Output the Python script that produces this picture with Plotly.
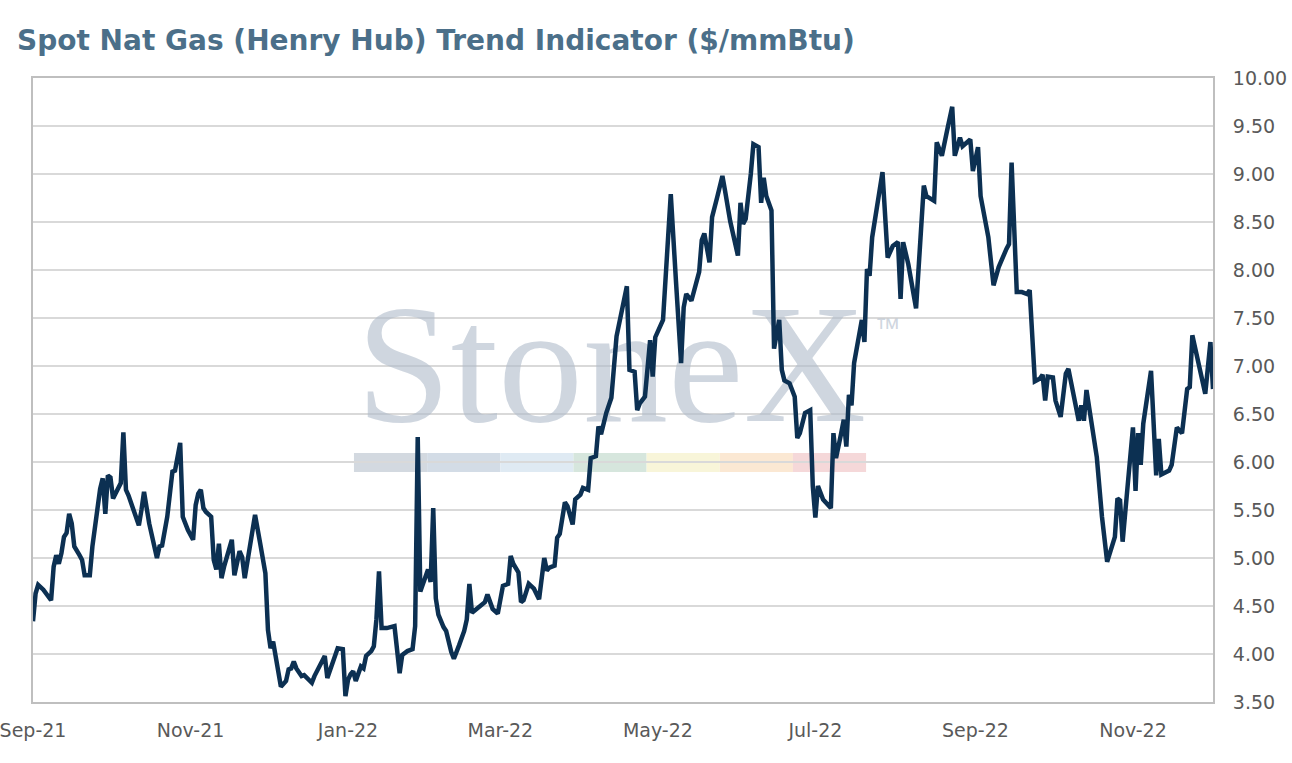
import plotly.graph_objects as go

# Henry Hub spot price, $/mmBtu
dates = [
    "2021-09-01", "2021-09-02", "2021-09-03", "2021-09-05", "2021-09-08", "2021-09-09", "2021-09-10",
    "2021-09-11", "2021-09-12", "2021-09-13", "2021-09-14", "2021-09-15", "2021-09-16", "2021-09-17",
    "2021-09-19", "2021-09-20", "2021-09-21", "2021-09-23", "2021-09-24", "2021-09-26", "2021-09-27",
    "2021-09-28", "2021-09-29", "2021-09-30",
    "2021-10-01", "2021-10-02", "2021-10-04", "2021-10-05", "2021-10-06", "2021-10-07", "2021-10-08",
    "2021-10-10", "2021-10-12", "2021-10-13", "2021-10-14", "2021-10-16", "2021-10-19", "2021-10-20",
    "2021-10-21", "2021-10-23", "2021-10-25", "2021-10-26", "2021-10-28", "2021-10-29", "2021-10-31",
    "2021-11-02", "2021-11-03", "2021-11-04", "2021-11-05", "2021-11-06", "2021-11-07", "2021-11-09",
    "2021-11-10", "2021-11-11", "2021-11-12", "2021-11-13", "2021-11-14", "2021-11-17", "2021-11-18",
    "2021-11-20", "2021-11-21", "2021-11-22", "2021-11-24", "2021-11-26", "2021-11-28", "2021-11-30",
    "2021-12-01", "2021-12-02", "2021-12-03", "2021-12-05", "2021-12-06", "2021-12-08", "2021-12-09",
    "2021-12-10", "2021-12-11", "2021-12-12", "2021-12-14", "2021-12-15", "2021-12-16", "2021-12-18",
    "2021-12-19", "2021-12-21", "2021-12-23", "2021-12-24", "2021-12-26", "2021-12-28", "2021-12-30",
    "2021-12-31",
    "2022-01-01", "2022-01-02", "2022-01-03", "2022-01-04", "2022-01-06", "2022-01-07", "2022-01-08",
    "2022-01-10", "2022-01-11", "2022-01-12", "2022-01-13", "2022-01-14", "2022-01-16", "2022-01-19",
    "2022-01-21", "2022-01-22", "2022-01-24", "2022-01-26", "2022-01-27", "2022-01-28", "2022-01-29",
    "2022-01-30",
    "2022-02-01", "2022-02-02", "2022-02-03", "2022-02-04", "2022-02-05", "2022-02-07", "2022-02-08",
    "2022-02-10", "2022-02-11", "2022-02-13", "2022-02-15", "2022-02-16", "2022-02-17", "2022-02-18",
    "2022-02-21", "2022-02-23", "2022-02-24", "2022-02-26", "2022-02-28",
    "2022-03-02", "2022-03-04", "2022-03-05", "2022-03-06", "2022-03-08", "2022-03-09", "2022-03-10",
    "2022-03-12", "2022-03-14", "2022-03-16", "2022-03-18", "2022-03-19", "2022-03-20", "2022-03-22",
    "2022-03-23", "2022-03-24", "2022-03-26", "2022-03-27", "2022-03-29", "2022-03-30",
    "2022-04-01", "2022-04-02", "2022-04-04", "2022-04-05", "2022-04-07", "2022-04-08", "2022-04-09",
    "2022-04-11", "2022-04-13", "2022-04-15", "2022-04-17", "2022-04-19", "2022-04-20", "2022-04-22",
    "2022-04-23", "2022-04-24", "2022-04-26", "2022-04-28", "2022-04-29", "2022-04-30",
    "2022-05-03", "2022-05-04", "2022-05-06", "2022-05-08", "2022-05-10", "2022-05-11", "2022-05-12",
    "2022-05-14", "2022-05-16", "2022-05-17", "2022-05-18", "2022-05-19", "2022-05-21", "2022-05-22",
    "2022-05-24", "2022-05-26", "2022-05-27", "2022-05-29",
    "2022-06-01", "2022-06-02", "2022-06-03", "2022-06-04", "2022-06-06", "2022-06-07", "2022-06-09",
    "2022-06-10", "2022-06-11", "2022-06-12", "2022-06-14", "2022-06-15", "2022-06-17", "2022-06-18",
    "2022-06-19", "2022-06-21", "2022-06-23", "2022-06-24", "2022-06-25", "2022-06-27", "2022-06-29",
    "2022-06-30",
    "2022-07-01", "2022-07-02", "2022-07-04", "2022-07-07", "2022-07-08", "2022-07-09", "2022-07-11",
    "2022-07-12", "2022-07-13", "2022-07-14", "2022-07-15", "2022-07-16", "2022-07-19", "2022-07-20",
    "2022-07-21", "2022-07-22", "2022-07-23", "2022-07-27", "2022-07-29", "2022-07-31",
    "2022-08-02", "2022-08-03", "2022-08-04", "2022-08-06", "2022-08-09", "2022-08-12", "2022-08-13",
    "2022-08-16", "2022-08-17", "2022-08-19", "2022-08-21", "2022-08-23", "2022-08-24", "2022-08-26",
    "2022-08-27", "2022-08-30", "2022-08-31",
    "2022-09-01", "2022-09-02", "2022-09-03", "2022-09-06", "2022-09-08", "2022-09-10", "2022-09-13",
    "2022-09-14", "2022-09-15", "2022-09-17", "2022-09-19", "2022-09-21", "2022-09-22", "2022-09-24",
    "2022-09-26", "2022-09-27", "2022-09-28", "2022-09-29",
    "2022-10-01", "2022-10-02", "2022-10-04", "2022-10-06", "2022-10-07", "2022-10-09", "2022-10-11",
    "2022-10-12", "2022-10-13", "2022-10-14", "2022-10-16", "2022-10-18", "2022-10-20", "2022-10-22",
    "2022-10-25", "2022-10-26", "2022-10-27", "2022-10-28", "2022-10-30",
    "2022-11-01", "2022-11-02", "2022-11-03", "2022-11-04", "2022-11-05", "2022-11-08", "2022-11-10",
    "2022-11-11", "2022-11-12", "2022-11-15", "2022-11-16", "2022-11-18", "2022-11-20", "2022-11-22",
    "2022-11-23", "2022-11-24", "2022-11-26", "2022-11-29",
    "2022-12-01", "2022-12-02",
]

prices = [
    4.34, 4.63, 4.72, 4.67, 4.56, 4.91, 5.03,
    4.94, 5.05, 5.22, 5.26, 5.46, 5.36, 5.12,
    5.03, 4.98, 4.82, 4.82, 5.12, 5.53, 5.72,
    5.83, 5.46, 5.86,
    5.84, 5.62, 5.72, 5.78, 6.31, 5.71, 5.65,
    5.50, 5.34, 5.50, 5.69, 5.36, 5.00, 5.12,
    5.13, 5.43, 5.90, 5.91, 6.20, 5.43, 5.29,
    5.19, 5.55, 5.67, 5.71, 5.52, 5.48, 5.43,
    4.98, 4.88, 5.15, 4.79, 4.91, 5.19, 4.82,
    5.07, 5.01, 4.79, 5.12, 5.45, 5.15, 4.84,
    4.25, 4.06, 4.13, 3.85, 3.66, 3.72, 3.84,
    3.85, 3.92, 3.85, 3.77, 3.78, 3.75, 3.70,
    3.77, 3.87, 3.98, 3.75, 3.91, 4.06, 4.05,
    3.56,
    3.73, 3.79, 3.82, 3.72, 3.87, 3.85, 3.98,
    4.03, 4.08, 4.36, 4.86, 4.27, 4.27, 4.29,
    3.80, 3.99, 4.03, 4.05, 4.29, 6.26, 4.65,
    4.72,
    4.88, 4.75, 5.52, 4.58, 4.41, 4.28, 4.24,
    4.02, 3.95, 4.09, 4.24, 4.36, 4.73, 4.43,
    4.49, 4.54, 4.62, 4.47, 4.42,
    4.71, 4.73, 5.02, 4.94, 4.85, 4.54, 4.56,
    4.73, 4.68, 4.57, 5.00, 4.87, 4.90, 4.92,
    5.21, 5.25, 5.58, 5.54, 5.35, 5.61,
    5.66, 5.73, 5.71, 6.04, 6.06, 6.37, 6.29,
    6.51, 6.67, 7.31, 7.55, 7.83, 6.96, 6.94,
    6.54, 6.61, 6.68, 7.27, 6.89, 7.30,
    7.48, 7.89, 8.79, 7.89, 7.03, 7.61, 7.75,
    7.68, 7.89, 7.98, 8.31, 8.38, 8.08, 8.55,
    8.76, 8.98, 8.83, 8.51,
    8.15, 8.70, 8.48, 8.53, 9.00, 9.31, 9.28,
    8.70, 8.96, 8.77, 8.62, 7.18, 7.48, 6.96,
    6.85, 6.82, 6.68, 6.25, 6.30, 6.51, 6.54,
    5.75,
    5.42, 5.75, 5.61, 5.52, 6.30, 6.04, 6.30,
    6.44, 6.16, 6.70, 6.59, 7.03, 7.48, 7.25,
    8.01, 7.94, 8.34, 9.02, 8.13, 8.25,
    8.29, 7.70, 8.29, 8.06, 7.60, 8.88, 8.77,
    8.72, 9.33, 9.19, 9.45, 9.70, 9.19, 9.38,
    9.29, 9.36, 9.03,
    9.15, 9.28, 8.77, 8.34, 7.84, 8.03, 8.22,
    8.27, 9.12, 7.77, 7.77, 7.75, 7.79, 6.84,
    6.87, 6.91, 6.64, 6.89,
    6.88, 6.64, 6.47, 6.92, 6.97, 6.68, 6.43,
    6.59, 6.43, 6.75, 6.40, 6.05, 5.43, 4.96,
    5.22, 5.62, 5.60, 5.17, 5.77,
    6.36, 5.70, 6.30, 5.97, 6.40, 6.95, 5.86,
    6.24, 5.87, 5.91, 5.97, 6.36, 6.30, 6.76,
    6.78, 7.32, 7.09, 6.71,
    7.25, 6.76,
]

tick_dates = ["2021-09-01", "2021-11-01", "2022-01-01", "2022-03-01",
              "2022-05-01", "2022-07-01", "2022-09-01", "2022-11-01"]

# colours of the logo strip under the watermark
strip_colors = ["#d3d9e0", "#d3dce6", "#dfeaf3", "#d6e6dd", "#f8f5d9", "#fbe8d3", "#f5d8d9"]

TITLE_COLOR = "#4b6f89"
LINE_COLOR = "#0c3052"
GRID_COLOR = "#d9d9d9"
BORDER_COLOR = "#bfbfbf"
TICK_COLOR = "#595959"
FONT = "DejaVu Sans"

fig = go.Figure()

# watermark sits on a hidden unit subplot underneath, so the price line draws over it
fig.add_trace(go.Scatter(
    x=[0.49, 0.725],
    y=[0.519, 0.592],
    mode="text",
    text=["StoneX", "™"],
    textfont=dict(family=["Liberation Serif", "Open Sans"], size=[170, 30],
                  color="rgba(175,187,202,0.6)"),
    hoverinfo="skip",
    showlegend=False,
    xaxis="x", yaxis="y",
))

fig.add_trace(go.Scatter(
    x=dates,
    y=prices,
    mode="lines",
    line=dict(color=LINE_COLOR, width=4.5),
    showlegend=False,
    xaxis="x2", yaxis="y2",
))

# coloured bar under the logo
seg_w = 0.062
for i, c in enumerate(strip_colors):
    fig.add_shape(type="rect", xref="paper", yref="paper",
                  x0=0.272 + i * seg_w, x1=0.272 + (i + 1) * seg_w,
                  y0=0.3686, y1=0.399,
                  fillcolor=c, line_width=0, layer="below")

fig.update_layout(
    width=1292, height=763,
    margin=dict(l=33, r=79, t=78, b=61),
    paper_bgcolor="white",
    plot_bgcolor="white",
    showlegend=False,
    hovermode=False,
    font=dict(family=FONT, color=TICK_COLOR),
    title=dict(
        text="Spot Nat Gas (Henry Hub) Trend Indicator ($/mmBtu)",
        x=17 / 1292, xanchor="left",
        y=1 - 40 / 763, yanchor="middle",
        font=dict(family=FONT, size=28, color=TITLE_COLOR, weight="bold"),
    ),
    xaxis=dict(range=[0, 1], visible=False, fixedrange=True),
    yaxis=dict(range=[0, 1], visible=False, fixedrange=True),
    xaxis2=dict(
        overlaying="x", anchor="y2", side="bottom",
        type="date",
        range=["2021-09-01", "2022-12-02"],
        tickvals=tick_dates,
        tickformat="%b-%y",
        showgrid=False,
        showline=True, mirror=True, linecolor=BORDER_COLOR, linewidth=2,
        ticks="",
        ticklabelstandoff=10,
        ticklabeloverflow="allow",
        automargin=False,
        tickfont=dict(size=19, color=TICK_COLOR),
    ),
    yaxis2=dict(
        overlaying="y", anchor="x2", side="right",
        range=[3.5, 10],
        dtick=0.5,
        tickformat=".2f",
        showgrid=True, gridcolor=GRID_COLOR, gridwidth=1.5,
        zeroline=False,
        showline=True, mirror=True, linecolor=BORDER_COLOR, linewidth=2,
        ticks="",
        ticklabelstandoff=14,
        automargin=False,
        tickfont=dict(size=19, color=TICK_COLOR),
    ),
)

fig.write_html("out.html", config={"displayModeBar": False},
               post_script="document.body.style.margin='0';")
